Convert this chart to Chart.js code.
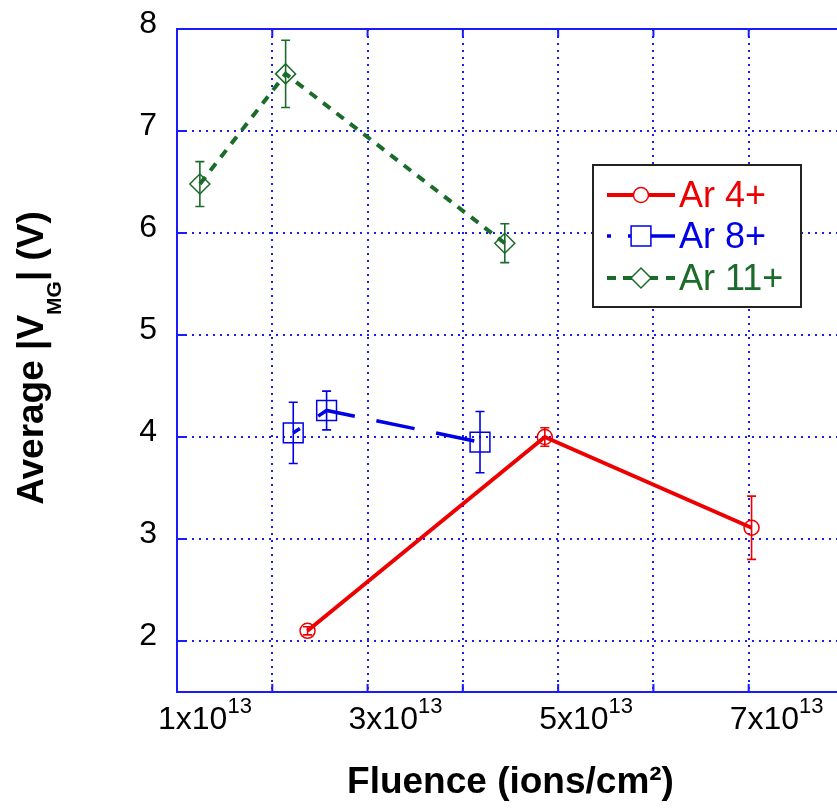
<!DOCTYPE html>
<html>
<head>
<meta charset="utf-8">
<script src="https://cdn.jsdelivr.net/npm/chart.js@4.4.0/dist/chart.umd.min.js"></script>
<style>
  html, body { margin: 0; padding: 0; background: #fff; overflow: hidden; }
  #wrap { width: 837px; height: 809px; overflow: hidden; }
</style>
</head>
<body>
<div id="wrap"><canvas id="chart" width="846" height="809"></canvas></div>
<script>
// axis ticks
const fluenceTicks = [1e13, 2e13, 3e13, 4e13, 5e13, 6e13, 7e13, 8e13];
const fluenceLabels = ['1', '', '3', '', '5', '', '7', ''];   // shown as Nx10^13
const voltTicks = [2, 3, 4, 5, 6, 7, 8];

// Ar 4+
const ar4Fluence = [2.37e13, 4.86e13, 7.03e13];
const ar4Volt = [2.10, 4.00, 3.11];
const ar4Err = [0.04, 0.09, 0.31];

// Ar 8+
const ar8Fluence = [2.22e13, 2.57e13, 4.18e13];
const ar8Volt = [4.04, 4.26, 3.95];
const ar8Err = [0.30, 0.19, 0.30];

// Ar 11+
const ar11Fluence = [1.24e13, 2.14e13, 4.44e13];
const ar11Volt = [6.48, 7.56, 5.90];
const ar11Err = [0.22, 0.33, 0.19];

const seriesNames = ['Ar 4+', 'Ar 8+', 'Ar 11+'];

const RED = '#ee0000';
const BLUE = '#0000e6';
const GREEN = '#1b6b2a';
const GRID = '#1a1aff';
const FONT = "'Liberation Sans', Arial, sans-serif";

const toPoints = (xs, ys) => xs.map((x, i) => ({ x: x, y: ys[i] }));

// error bars, inner ticks, top border, legend box, y title
const extras = {
  id: 'extras',
  afterDatasetsDraw(chart) {
    const ctx = chart.ctx;
    const xs = chart.scales.x, ys = chart.scales.y;
    ctx.save();
    ctx.setLineDash([]);
    chart.data.datasets.forEach(ds => {
      ctx.strokeStyle = ds.borderColor;
      ctx.lineWidth = 1.6;
      ds.data.forEach((pt, j) => {
        const e = ds.errors[j];
        const px = xs.getPixelForValue(pt.x);
        const t = ys.getPixelForValue(pt.y + e);
        const b = ys.getPixelForValue(pt.y - e);
        ctx.beginPath();
        ctx.moveTo(px, t); ctx.lineTo(px, b);
        ctx.moveTo(px - 4.5, t); ctx.lineTo(px + 4.5, t);
        ctx.moveTo(px - 4.5, b); ctx.lineTo(px + 4.5, b);
        ctx.stroke();
      });
    });
    ctx.restore();
  },
  afterDraw(chart) {
    const ctx = chart.ctx;
    const xs = chart.scales.x, ys = chart.scales.y;
    const a = chart.chartArea;
    ctx.save();
    ctx.setLineDash([]);
    ctx.strokeStyle = GRID;
    ctx.lineWidth = 2;
    ctx.beginPath();
    ctx.moveTo(a.left, a.top); ctx.lineTo(a.right, a.top);
    fluenceTicks.forEach(v => {
      const px = xs.getPixelForValue(v);
      ctx.moveTo(px, a.bottom); ctx.lineTo(px, a.bottom - 8);
      ctx.moveTo(px, a.top); ctx.lineTo(px, a.top + 8);
    });
    voltTicks.forEach(v => {
      const py = ys.getPixelForValue(v);
      ctx.moveTo(a.left, py); ctx.lineTo(a.left + 8, py);
    });
    ctx.stroke();

    // x tick labels with superscript exponent
    ctx.fillStyle = '#000';
    ctx.textBaseline = 'alphabetic';
    ctx.textAlign = 'left';
    fluenceTicks.forEach((v, i) => {
      if (!fluenceLabels[i]) return;
      const px = xs.getPixelForValue(v);
      const base = fluenceLabels[i] + 'x10';
      ctx.font = '32px ' + FONT;
      ctx.fillText(base, px - 19, 729);
      const w = ctx.measureText(base).width;
      ctx.font = '22px ' + FONT;
      ctx.fillText('13', px - 19 + w, 713);
    });

    // y title with subscript
    ctx.save();
    ctx.translate(43, 358);
    ctx.rotate(-Math.PI / 2);
    const parts = [['Average |V', 'bold 37px ', 0], ['MG', 'bold 21px ', 18], ['| (V)', 'bold 37px ', 0]];
    let total = 0;
    parts.forEach(p => { ctx.font = p[1] + FONT; total += ctx.measureText(p[0]).width; });
    let x = -total / 2;
    parts.forEach(p => {
      ctx.font = p[1] + FONT;
      ctx.fillText(p[0], x, p[2]);
      x += ctx.measureText(p[0]).width;
    });
    ctx.restore();

    // legend
    const bx = 593, by = 165, bw = 208, bh = 142;
    ctx.fillStyle = '#fff';
    ctx.fillRect(bx, by, bw, bh);
    ctx.strokeStyle = '#222';
    ctx.lineWidth = 2;
    ctx.strokeRect(bx, by, bw, bh);
    const rows = [195, 236, 278];
    chart.data.datasets.forEach((ds, i) => {
      const y = rows[i];
      ctx.strokeStyle = ds.borderColor;
      ctx.lineWidth = ds.borderWidth;
      ctx.setLineDash([]);
      ctx.beginPath();
      if (i === 0) {
        ctx.moveTo(607, y); ctx.lineTo(675, y);
      } else if (i === 1) {
        ctx.moveTo(607, y); ctx.lineTo(611, y);
        ctx.moveTo(628, y); ctx.lineTo(675, y);
      } else {
        ctx.moveTo(607, y); ctx.lineTo(616, y);
        ctx.moveTo(623, y); ctx.lineTo(633, y);
        ctx.moveTo(648, y); ctx.lineTo(658, y);
        ctx.moveTo(666, y); ctx.lineTo(675, y);
      }
      ctx.stroke();
      ctx.lineWidth = ds.pointBorderWidth;
      ctx.fillStyle = '#fff';
      Chart.helpers.drawPoint(ctx, { pointStyle: ds.pointStyle, radius: ds.pointRadius, rotation: 0, borderWidth: ds.pointBorderWidth }, 641, y);
      ctx.fillStyle = ds.borderColor;
      ctx.font = '36px ' + FONT;
      ctx.fillText(seriesNames[i], 679, y + 12);
    });
    ctx.restore();
  }
};

const noPad = s => { s.paddingTop = 0; s.paddingBottom = 0; s.paddingLeft = 0; s.paddingRight = 0; };

new Chart(document.getElementById('chart'), {
  type: 'scatter',
  data: {
    datasets: [
      {
        label: seriesNames[0],
        data: toPoints(ar4Fluence, ar4Volt),
        errors: ar4Err,
        showLine: true,
        borderColor: RED,
        borderWidth: 4,
        pointStyle: 'circle',
        pointRadius: 7.5,
        pointBorderWidth: 1.5,
        pointBorderColor: RED,
        pointBackgroundColor: 'rgba(0,0,0,0)'
      },
      {
        label: seriesNames[1],
        data: toPoints(ar8Fluence, ar8Volt),
        errors: ar8Err,
        showLine: true,
        borderColor: BLUE,
        borderWidth: 3.5,
        borderDash: [39, 22],
        borderDashOffset: 31,
        pointStyle: 'rect',
        pointRadius: 14,
        pointBorderWidth: 1.5,
        pointBorderColor: BLUE,
        pointBackgroundColor: 'rgba(0,0,0,0)'
      },
      {
        label: seriesNames[2],
        data: toPoints(ar11Fluence, ar11Volt),
        errors: ar11Err,
        showLine: true,
        borderColor: GREEN,
        borderWidth: 4,
        borderDash: [9, 8],
        pointStyle: 'rectRot',
        pointRadius: 10,
        pointBorderWidth: 1.5,
        pointBorderColor: GREEN,
        pointBackgroundColor: 'rgba(0,0,0,0)'
      }
    ]
  },
  options: {
    responsive: false,
    animation: false,
    layout: { autoPadding: false, padding: { top: 29, right: 2, left: 0, bottom: 0 } },
    plugins: { legend: { display: false }, tooltip: { enabled: false } },
    scales: {
      x: {
        type: 'linear',
        min: 1e13,
        max: 8e13,
        afterBuildTicks: s => { s.ticks = fluenceTicks.map(v => ({ value: v })); },
        afterFit: s => { s.height = 117; noPad(s); },
        ticks: { display: false },
        grid: { color: GRID, lineWidth: 2, drawTicks: false },
        border: { color: GRID, width: 2, dash: [2, 5] },
        title: {
          display: true,
          text: 'Fluence (ions/cm²)',
          color: '#000',
          font: { family: FONT, size: 37, weight: 'bold' },
          padding: { top: 0, bottom: 4 }
        }
      },
      y: {
        type: 'linear',
        min: 1.5,
        max: 8,
        afterBuildTicks: s => { s.ticks = voltTicks.map(v => ({ value: v })); },
        afterFit: s => { s.width = 177; noPad(s); },
        ticks: {
          color: '#000',
          font: { family: FONT, size: 32 },
          padding: 20,
          labelOffset: -5
        },
        grid: { color: GRID, lineWidth: 2, drawTicks: false },
        border: { color: GRID, width: 2, dash: [2, 5] }
      }
    }
  },
  plugins: [extras]
});
</script>
</body>
</html>
